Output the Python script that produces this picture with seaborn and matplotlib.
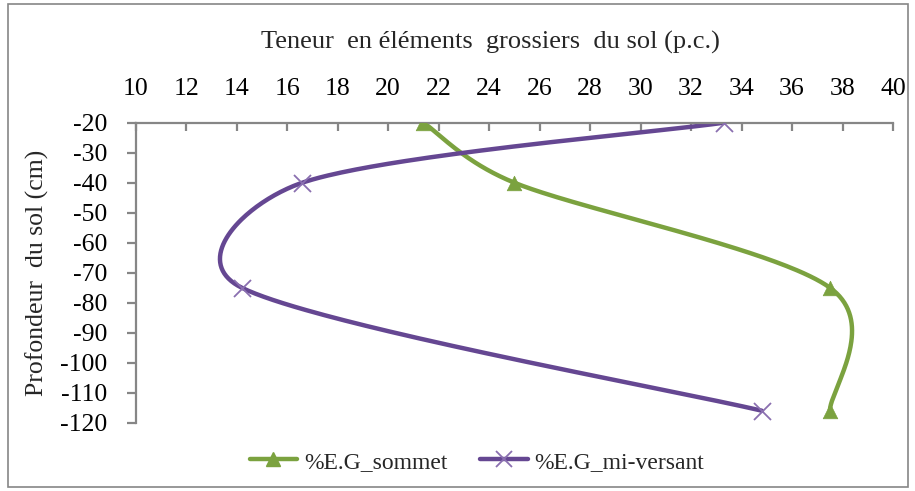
import numpy as np
import pandas as pd
import matplotlib
matplotlib.use("Agg")
import matplotlib.pyplot as plt
from matplotlib.lines import Line2D
from matplotlib.patches import Rectangle
import seaborn as sns

# ---- data ----
depth = [-20, -40, -75, -116]
sommet = [21.4, 25.0, 37.5, 37.5]
mi_versant = [33.3, 16.6, 14.2, 34.8]
series_names = ["%E.G_sommet", "%E.G_mi-versant"]
x_ticks = list(range(10, 41, 2))
y_ticks = list(range(-120, -19, 10))
x_label = "Teneur  en éléments  grossiers  du sol (p.c.)"
y_label = "Profondeur  du sol (cm)"

GREEN = "#7BA23F"
PURPLE = "#654792"
PURPLE_M = "#8A6FB0"
GREY = "#868686"


def excel_smooth(ax, xs, ys, n=80):
    """Excel-like smoothed line: Bezier segments with tension 1/6, capped
    at half the segment length, computed in display space."""
    P = ax.transData.transform(np.column_stack([xs, ys]).astype(float))
    m = len(P)
    out = []
    for i in range(m - 1):
        p0 = P[i - 1] if i > 0 else P[i]
        p1, p2 = P[i], P[i + 1]
        p3 = P[i + 2] if i + 2 < m else P[i + 1]
        d12 = np.linalg.norm(p2 - p1)
        d02 = np.linalg.norm(p2 - p0)
        d13 = np.linalg.norm(p3 - p1)
        f1 = 1 / 6 if d02 / 6 < d12 / 2 else (d12 / 2) / d02 if d02 > 0 else 0
        f2 = 1 / 6 if d13 / 6 < d12 / 2 else (d12 / 2) / d13 if d13 > 0 else 0
        c1 = p1 + (p2 - p0) * f1
        c2 = p2 - (p3 - p1) * f2
        t = np.linspace(0, 1, n)[:, None]
        seg = ((1 - t) ** 3) * p1 + 3 * ((1 - t) ** 2) * t * c1 + 3 * (1 - t) * t ** 2 * c2 + t ** 3 * p2
        out.append(seg if i == 0 else seg[1:])
    return ax.transData.inverted().transform(np.vstack(out))


sns.set_theme(style="white")
plt.rcParams["font.family"] = ["Liberation Serif", "DejaVu Serif"]
plt.rcParams["axes.unicode_minus"] = False

FS = 18.5
fig = plt.figure(figsize=(9.15, 4.91), dpi=100)
W, H = 915, 491
ax = fig.add_axes([135.7 / W, 1 - 422.7 / H, (893 - 135.7) / W, (422.7 - 122.7) / H])
ax.set_xlim(10, 40)
ax.set_ylim(-120, -20)

rows = []
for name, vals in zip(series_names, [sommet, mi_versant]):
    c = excel_smooth(ax, vals, depth)
    for i, (a, b) in enumerate(c):
        rows.append({"serie": name, "x": a, "y": b, "order": i})
curve = pd.DataFrame(rows)
pts = pd.DataFrame({"x": sommet + mi_versant, "y": depth + depth,
                    "serie": [series_names[0]] * 4 + [series_names[1]] * 4})

sns.lineplot(data=curve, x="x", y="y", hue="serie", sort=False, estimator=None,
             palette={series_names[0]: GREEN, series_names[1]: PURPLE},
             linewidth=3.2, legend=False, ax=ax, zorder=2)
sns.scatterplot(data=pts[pts.serie == series_names[0]], x="x", y="y", marker="^",
                s=110, color=GREEN, edgecolor=GREEN, linewidth=0.5, legend=False, ax=ax, zorder=3)
sns.scatterplot(data=pts[pts.serie == series_names[1]], x="x", y="y", marker="x",
                s=150, color=PURPLE_M, linewidth=1.3, legend=False, ax=ax, zorder=3)

ax.set_xlim(10, 40)
ax.set_ylim(-120, -20)
ax.set_xticks(x_ticks)
ax.set_yticks(y_ticks)
ax.xaxis.tick_top()
ax.xaxis.set_label_position("top")
for s in ["bottom", "right"]:
    ax.spines[s].set_visible(False)
for s in ["top", "left"]:
    ax.spines[s].set_color(GREY)
    ax.spines[s].set_linewidth(1.6)
ax.tick_params(axis="x", direction="in", length=6, width=1.6, color=GREY,
               labelsize=FS, pad=16, labelcolor="black", top=True, bottom=False)
ax.tick_params(axis="y", direction="out", length=6.5, width=1.6, color=GREY,
               labelsize=FS, pad=14, labelcolor="black", left=True)
ax.set_xlabel(x_label, fontsize=19)
ax.xaxis.label.set_va("center")
ax.xaxis.set_label_coords(0.469, 1.0 + (122.7 - 42) / 300)
ax.set_ylabel(y_label, fontsize=FS)
ax.yaxis.label.set_va("center")
ax.yaxis.set_label_coords(-(135.7 - 37) / 757.3, 0.5)
ax.patch.set_alpha(0)

handles = [
    Line2D([0], [0], color=GREEN, lw=3.2, marker="^", markersize=10, markeredgecolor=GREEN),
    Line2D([0], [0], color=PURPLE, lw=3.2, marker="x", markersize=12, markeredgecolor=PURPLE_M,
           markeredgewidth=1.3),
]
fig.legend(handles, series_names, loc="center", bbox_to_anchor=(477 / W, 1 - 462 / H),
           ncol=2, frameon=False, fontsize=17, handlelength=2.0, handletextpad=0.3,
           columnspacing=1.4)

fig.patches.append(Rectangle((8 / W, 4 / H), (908 - 8) / W, (487 - 4) / H, transform=fig.transFigure,
                             fill=False, edgecolor=GREY, linewidth=1.2))

fig.savefig("out.png", dpi=100, facecolor="white")
